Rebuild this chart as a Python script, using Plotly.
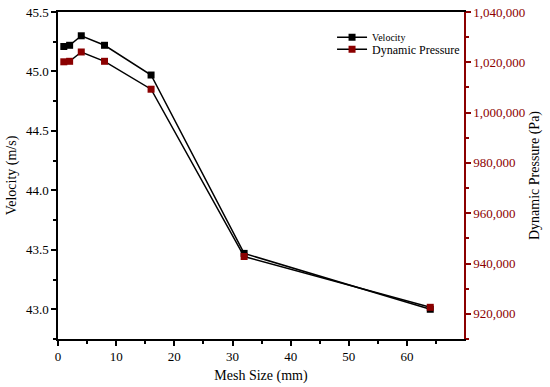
import plotly.graph_objects as go

mesh_size = [1, 2, 4, 8, 16, 32, 64]
velocity = [45.21, 45.22, 45.30, 45.22, 44.97, 43.47, 43.00]
dynamic_pressure = [1020200, 1020400, 1024100, 1020400, 1009300, 942800, 922600]

RED = "#8B0000"
FONT = "Times New Roman"

fig = go.Figure()
fig.add_trace(go.Scatter(
    x=mesh_size, y=velocity, name="Velocity",
    mode="lines+markers",
    line=dict(color="black", width=1.5),
    marker=dict(symbol="square", size=7, color="black"),
    yaxis="y", legend="legend"))
fig.add_trace(go.Scatter(
    x=mesh_size, y=dynamic_pressure, name="Dynamic Pressure",
    mode="lines+markers",
    line=dict(color="black", width=1.5),
    marker=dict(symbol="square", size=7, color=RED),
    yaxis="y2", legend="legend2"))

fig.update_layout(
    width=550, height=387,
    margin=dict(l=58, r=86, t=12, b=48, autoexpand=False),
    paper_bgcolor="white", plot_bgcolor="white",
    font=dict(family=FONT, size=13, color="black"),
    showlegend=True,
    legend=dict(x=0.675, y=0.9226, xanchor="left", yanchor="middle",
                bgcolor="rgba(0,0,0,0)", font=dict(size=10),
                itemwidth=30),
    legend2=dict(x=0.675, y=0.886, xanchor="left", yanchor="middle",
                 bgcolor="rgba(0,0,0,0)", font=dict(size=12),
                 itemwidth=30),
    xaxis=dict(
        range=[0, 69.8], dtick=10, tick0=0,
        showline=True, linecolor="black", linewidth=1.5, mirror=True,
        ticks="outside", ticklen=5, tickwidth=1.5, tickcolor="black",
        minor=dict(ticks="outside", dtick=5, ticklen=3, tickwidth=1.5, tickcolor="black"),
        showgrid=False, zeroline=False, automargin=False,
        title=dict(text="Mesh Size (mm)", font=dict(size=14), standoff=7),
        tickfont=dict(size=13),
    ),
    yaxis=dict(
        range=[42.75, 45.5], dtick=0.5, tick0=43.0, tickformat=".1f",
        showline=True, linecolor="black", linewidth=1.5,
        ticks="outside", ticklen=5, tickwidth=1.5, tickcolor="black",
        minor=dict(ticks="outside", dtick=0.25, tick0=43.0, ticklen=3, tickwidth=1.5, tickcolor="black"),
        showgrid=False, zeroline=False, automargin=False,
        title=dict(text="Velocity (m/s)", font=dict(size=14), standoff=6),
        tickfont=dict(size=13),
    ),
    yaxis2=dict(
        range=[910000, 1040000], dtick=20000, tick0=920000, tickformat=",d",
        overlaying="y", side="right", anchor="x",
        showline=True, linecolor=RED, linewidth=1.5,
        ticks="outside", ticklen=5, tickwidth=1.5, tickcolor=RED,
        minor=dict(ticks="outside", dtick=10000, ticklen=3, tickwidth=1.5, tickcolor=RED),
        showgrid=False, zeroline=False, automargin=False,
        tickfont=dict(size=13, color=RED),
        title=dict(text="Dynamic Pressure (Pa)", font=dict(size=14, color="black"), standoff=5),
    ),
)

fig.write_html("out.html", config={"displayModeBar": False},
               post_script="document.body.style.margin='0';")
